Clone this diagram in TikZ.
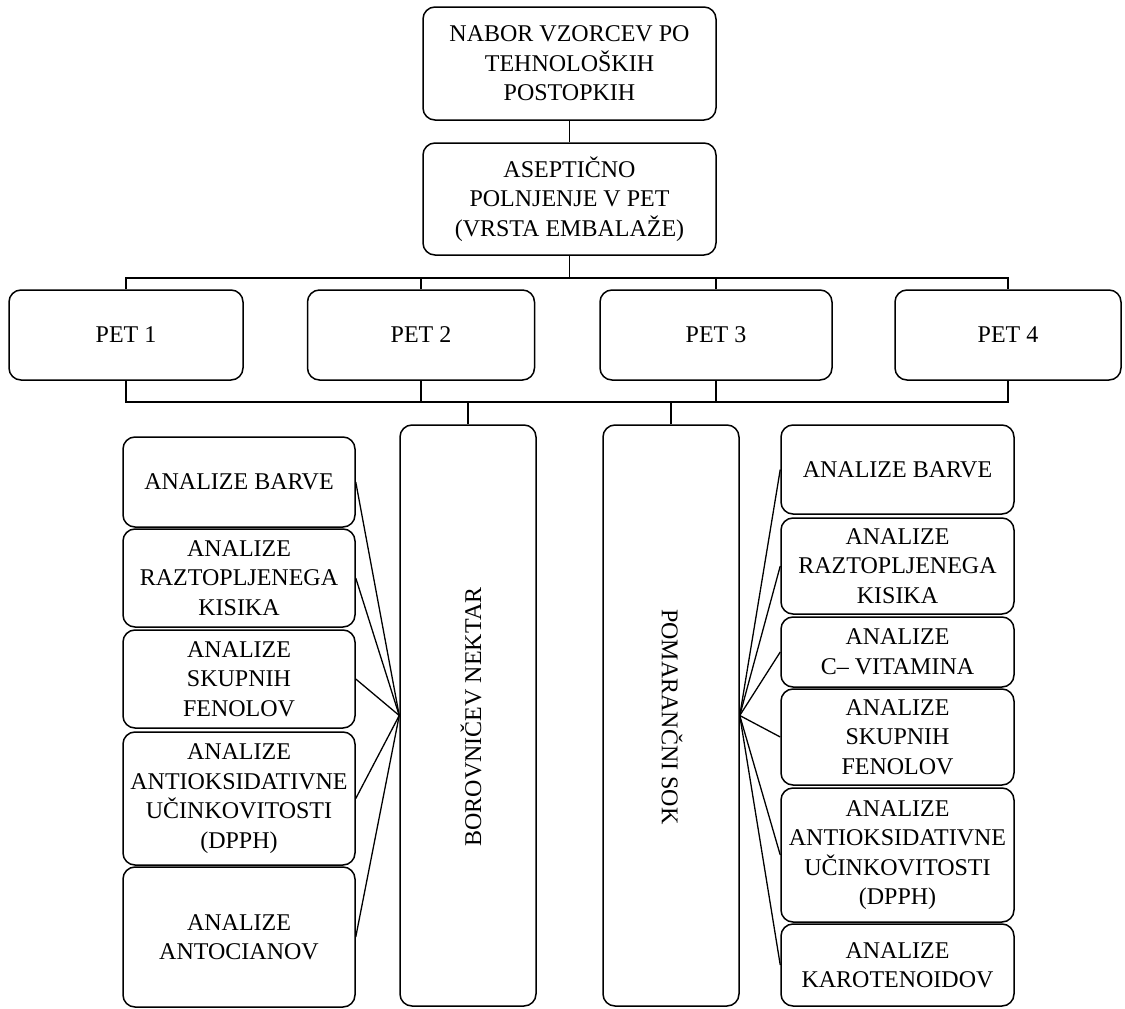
\documentclass[tikz,border=0pt]{standalone}
\usepackage{fontspec}
\setmainfont{Liberation Serif}
\begin{document}
\begin{tikzpicture}[x=1pt,y=-1pt,
  box/.style={draw=black, line width=1.5pt, rounded corners=12pt, fill=white,
    align=center, inner sep=2pt, font=\fontsize{24}{29.5}\selectfont},
  link/.style={draw=black, line width=1.3pt},
  vtext/.style={font=\fontsize{24}{29.5}\selectfont, inner sep=0pt}]
\useasboundingbox[fill=white] (0,0) rectangle (1125,1009);

% top of the tree
\node[box, minimum width=293pt, minimum height=113pt] (nabor) at (569.5,63.5)
  {NABOR VZORCEV PO\\TEHNOLOŠKIH\\POSTOPKIH};
\node[box, minimum width=293pt, minimum height=112pt] (asep) at (569.5,199)
  {ASEPTIČNO\\POLNJENJE V PET\\(VRSTA EMBALAŽE)};

% packaging variants
\node[box, minimum width=234pt, minimum height=90pt] (pet1) at (126,335) {PET 1};
\node[box, minimum width=227pt, minimum height=90pt] (pet2) at (421,335) {PET 2};
\node[box, minimum width=232pt, minimum height=90pt] (pet3) at (716,335) {PET 3};
\node[box, minimum width=226pt, minimum height=90pt] (pet4) at (1008,335) {PET 4};

% products
\node[box, minimum width=136pt, minimum height=581pt] (nectar) at (468,715.5) {};
\node[vtext, rotate=90] (nectartext) at (471,717) {BOROVNIČEV NEKTAR};
\node[box, minimum width=136pt, minimum height=581pt] (juice) at (671,715.5) {};
\node[vtext, rotate=-90] (juicetext) at (672,717) {POMARANČNI SOK};

% analyses of the nectar
\node[box, minimum width=232pt, minimum height=90pt] (l1) at (239,482) {ANALIZE BARVE};
\node[box, minimum width=232pt, minimum height=98pt] (l2) at (239,578) {ANALIZE\\RAZTOPLJENEGA\\KISIKA};
\node[box, minimum width=232pt, minimum height=98pt] (l3) at (239,679) {ANALIZE\\SKUPNIH\\FENOLOV};
\node[box, minimum width=232pt, minimum height=133pt] (l4) at (239,798.5) {ANALIZE\\ANTIOKSIDATIVNE\\UČINKOVITOSTI\\(DPPH)};
\node[box, minimum width=232pt, minimum height=140pt] (l5) at (239,937) {ANALIZE\\ANTOCIANOV};

% analyses of the juice
\node[box, minimum width=233pt, minimum height=89pt] (r1) at (897.5,469.5) {ANALIZE BARVE};
\node[box, minimum width=233pt, minimum height=96pt] (r2) at (897.5,566) {ANALIZE\\RAZTOPLJENEGA\\KISIKA};
\node[box, minimum width=233pt, minimum height=70pt] (r3) at (897.5,652) {ANALIZE\\C– VITAMINA};
\node[box, minimum width=233pt, minimum height=96pt] (r4) at (897.5,737) {ANALIZE\\SKUPNIH\\FENOLOV};
\node[box, minimum width=233pt, minimum height=134pt] (r5) at (897.5,855) {ANALIZE\\ANTIOKSIDATIVNE\\UČINKOVITOSTI\\(DPPH)};
\node[box, minimum width=233pt, minimum height=82pt] (r6) at (897.5,965) {ANALIZE\\KAROTENOIDOV};

% bus lines
\coordinate (bt) at (0,278);
\coordinate (bb) at (0,402);
\draw[link] (nabor.south) -- (asep.north);
\draw[link] (asep.south) -- (asep.south |- bt);
\draw[link] (pet1.north) -- (pet1.north |- bt) -- (pet4.north |- bt) -- (pet4.north);
\draw[link] (pet2.north) -- (pet2.north |- bt);
\draw[link] (pet3.north) -- (pet3.north |- bt);
\draw[link] (pet1.south) -- (pet1.south |- bb) -- (pet4.south |- bb) -- (pet4.south);
\draw[link] (pet2.south) -- (pet2.south |- bb);
\draw[link] (pet3.south) -- (pet3.south |- bb);
\draw[link] (nectar.north) -- (nectar.north |- bb);
\draw[link] (juice.north) -- (juice.north |- bb);

% fans to the analyses
\foreach \n in {l1,l2,l3,l4,l5}
  \draw[link] (\n.east) -- (nectar.west);
\foreach \n in {r1,r2,r3,r4,r5,r6}
  \draw[link] (\n.west) -- (juice.east);
\end{tikzpicture}
\end{document}
